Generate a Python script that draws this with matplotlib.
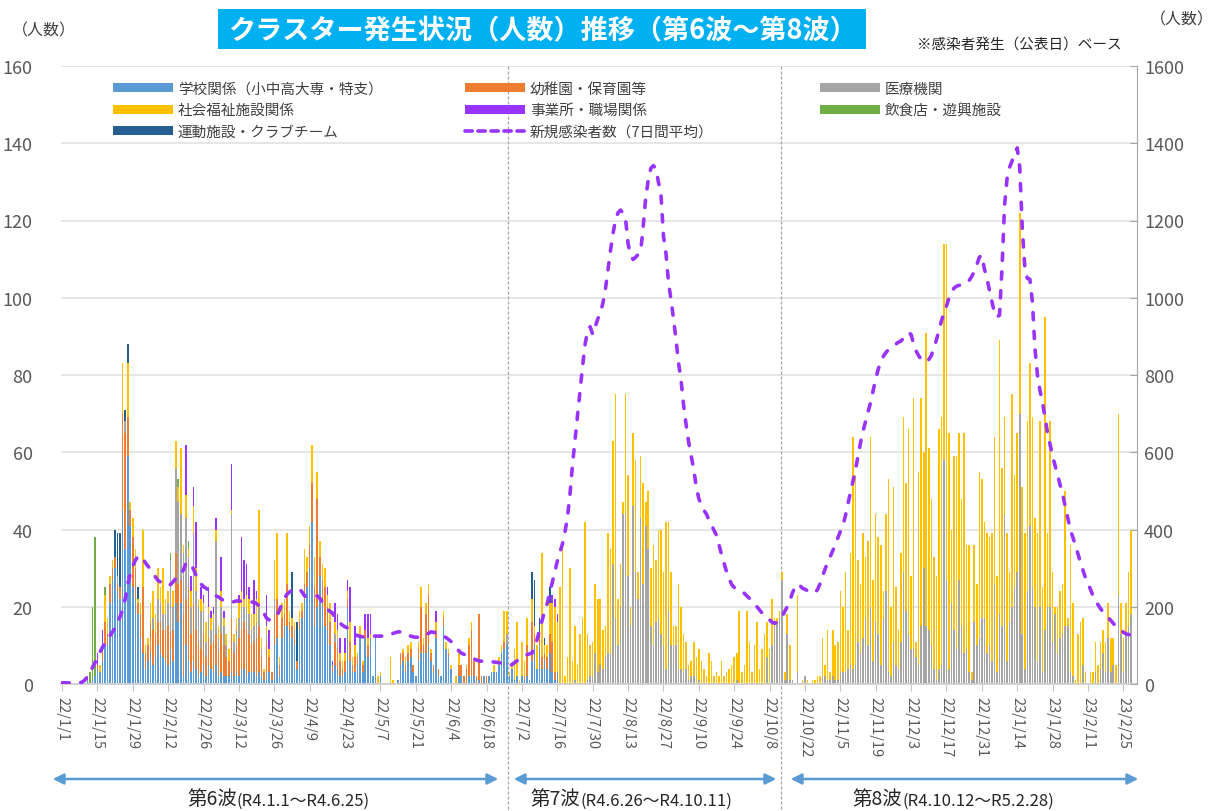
import sys
import matplotlib
matplotlib.use('Agg')
import matplotlib.pyplot as plt
import matplotlib.transforms as mtransforms
from matplotlib.patches import Patch, Rectangle, FancyArrowPatch
from matplotlib.lines import Line2D

plt.rcParams['font.family'] = ['Noto Sans CJK JP', 'DejaVu Sans']

W, H = 1212, 812
N_DAYS = 424  # 2022/1/1 .. 2023/2/28

categories = ['学校関係（小中高大専・特支）', '幼稚園・保育園等', '医療機関',
              '社会福祉施設関係', '事業所・職場関係', '飲食店・遊興施設',
              '運動施設・クラブチーム']
line_label = '新規感染者数（7日間平均）'
colors = ['#5B9BD5', '#ED7D31', '#A5A5A5', '#FFC000', '#9933FF', '#70AD47', '#255E91']
line_color = '#9933FF'

tick_labels = ['22/1/1', '22/1/15', '22/1/29', '22/2/12', '22/2/26', '22/3/12', '22/3/26',
               '22/4/9', '22/4/23', '22/5/7', '22/5/21', '22/6/4', '22/6/18', '22/7/2',
               '22/7/16', '22/7/30', '22/8/13', '22/8/27', '22/9/10', '22/9/24', '22/10/8',
               '22/10/22', '22/11/5', '22/11/19', '22/12/3', '22/12/17', '22/12/31',
               '23/1/14', '23/1/28', '23/2/11', '23/2/25']
tick_days = [0, 14, 28, 42, 56, 70, 84, 98, 112, 126, 140, 154, 168, 182, 196, 210, 224,
             238, 252, 266, 280, 294, 308, 322, 336, 350, 364, 378, 392, 406, 420]

# ---------------- wave 6 (day 0-175) ----------------
school_w6 = [0,0,0,0,0,0,0,0,0,0,
             1,0,1,2,4,3,6,10,10,21,
             27,30,24,22,45,35,59,41,25,22,
             18,12,8,4,6,8,5,7,10,8,
             7,6,5,9,6,21,16,21,2,10,
             6,3,6,4,2,3,5,2,5,4,
             3,5,2,3,2,2,2,3,2,3,
             2,4,4,2,3,3,3,2,3,2,
             1,3,3,1,10,12,2,12,15,15,
             14,12,10,4,14,17,22,25,30,42,
             15,20,28,20,15,14,10,3,5,4,
             2,2,3,20,6,3,3,5,12,3,
             12,7,12,2,12,0,2,0,0,0,
             0,0,0,1,5,6,3,6,7,3,
             2,6,8,8,8,10,6,3,12,2,
             2,15,9,7,4,0,0,2,2,0,
             0,2,2,2,0,1,0,2,0,2,
             3,3,3,5,8,9]
kinder_w6 = [0,0,0,0,0,0,0,0,0,0,
             0,0,0,0,1,0,3,6,3,5,
             3,3,2,3,25,30,10,4,13,8,
             3,6,17,4,4,8,9,6,6,8,
             7,8,10,4,8,13,10,6,16,12,
             19,10,15,10,8,6,8,5,7,6,
             8,8,6,10,8,5,4,14,6,7,
             10,10,12,12,10,7,8,10,12,5,
             2,8,4,2,8,10,3,5,3,11,
             2,3,2,2,2,2,4,4,6,10,
             10,28,5,7,10,6,6,2,6,5,
             4,2,3,2,5,2,4,2,1,2,
             2,3,0,0,0,0,0,0,0,0,
             0,0,0,0,3,2,2,2,2,2,
             0,3,12,2,10,13,2,2,2,2,
             0,2,0,1,0,0,0,3,3,2,
             4,8,12,4,2,17,2,0,2,0,
             0,0,0,0,0,2]
medical_w6 = [0]*20 + [
             0,0,2,0,0,3,0,0,0,0,
             0,0,0,0,0,0,3,0,6,5,
             4,4,6,19,6,22,21,17,16,21,
             8,7,18,10,10,10,6,4,6,4,
             5,24,4,7,5,3,0,27,3,4,
             5,6,4,5,5,4,4,4,5,2,
             0,2,0,0,4,0,0,0,0,0,
             0,0,2,0,0,0,0,0,0,0,
             0,0,0,0,0,0,0,0,2,3] + [0]*66
welfare_w6 = [0,0,0,0,0,0,0,0,0,0,
              0,0,0,0,0,2,0,7,4,2,
              2,0,0,0,13,0,14,2,5,5,
              1,3,15,2,2,5,7,5,8,4,
              12,4,3,0,4,7,4,17,2,6,
              2,4,7,6,2,3,2,5,2,3,
              2,3,3,4,2,3,3,1,2,3,
              4,4,2,4,4,4,3,6,25,3,
              1,2,2,0,10,17,2,4,4,13,
              3,2,2,0,3,2,9,4,5,10,
              8,7,4,4,5,3,5,0,3,2,
              2,2,2,2,5,2,3,1,2,1,
              0,2,1,0,0,2,1,0,0,0,
              7,1,0,0,0,1,2,2,2,0,
              0,2,5,2,3,3,1,0,2,0,
              0,2,2,1,1,0,2,3,0,0,
              1,2,2,0,0,0,0,0,0,0,
              0,2,0,2,2,8]
work_w6 = [0,0,0,0,0,0,0,0,0,0,
           1,0,0,0,3,0,5,0,0,0,
           0,0,0,0,0,0,0,0,0,0,
           0,0,0,0,0,0,0,0,0,0,
           0,0,0,0,0,0,0,0,0,13,
           0,4,5,12,0,3,2,0,5,2,
           2,3,0,9,2,0,0,12,0,0,
           2,14,10,8,3,0,9,2,0,0,
           0,8,5,0,0,0,0,0,0,0,
           0,0,0,0,0,0,0,0,0,0,
           0,0,0,0,0,2,0,1,5,4,
           4,0,4,3,9,0,5,0,0,0,
           4,6,5,0,0,0,0,0,0,0,
           0,0,0,0,0,0,0,0,0,0,
           0,0,0,0,0,0,0,0,3,0] + [0]*26

# ---------------- wave 7 (day 176-283) ----------------
school_w7 = [10,2,4,1,2,0,2,1,2,1,
             6,10,4,10,4,6,4,8,3,1,
             3] + [0]*87
kinder_w7 = [0,0,0,0,0,0,0,1,8,0,
             10,3,0,2,3,2,3,5,8,2] + [0]*88
medical_w7 = [3,0,0,0,0,0,0,0,0,0,
              0,0,0,0,0,0,0,0,0,0,
              0,0,0,0,0,0,0,1,0,0,
              0,0,1,2,2,8,3,5,4,7,
              8,8,31,17,10,20,44,44,28,15,
              46,29,22,43,26,41,35,15,10,16,
              17,13,10,4,19,10,10,10,4,4,
              3,4,1,2,2,0,1,0,0,0,
              0,0,0,0,0,0,0,0,0,0,
              0,1,0,0,0,0,0,0,0,0,
              0,0,0,7,0,10,15,16]
welfare_w7 = [6,1,1,8,14,1,9,4,7,0,
              6,2,6,0,27,2,3,8,10,17,
              13,25,37,2,7,30,6,14,5,13,
              17,42,12,8,9,18,19,17,10,8,
              31,27,32,58,12,11,3,31,26,5,
              19,29,7,16,26,6,15,15,26,16,
              23,27,19,38,23,19,5,5,22,16,
              10,7,4,4,9,7,8,6,4,2,
              8,6,2,3,2,6,2,3,4,5,
              7,7,19,3,5,19,11,3,10,16,
              4,9,13,9,9,12,2,1]
work_w7 = [0]*18 + [2, 2, 2] + [0]*87

# ---------------- wave 8 (day 284-423) ----------------
medical_w8 = [17,27,1,13,1,1,0,3,0,0,
              2,0,0,0,0,0,0,2,2,1,
              1,2,1,1,3,3,3,4,5,4,
              5,11,8,12,17,10,20,6,16,13,
              5,17,24,3,2,11,5,4,11,29,
              19,13,9,9,7,5,15,30,15,14,
              10,4,1,4,5,58,27,4,21,14,
              9,27,15,8,9,3,1,16,10,12,
              17,17,8,10,6,26,3,18,15,44,
              6,16,20,25,29,70,13,4,24,41,
              25,20,6,20,3,14,20,20,11,18,
              8,12,13,15,15,3,2,0,0,0,
              5,0,0,0,0,3,0,4,8,3,
              12,3,5,0,23,13,3,13,15,18]
welfare_w8 = [2,2,2,5,9,0,0,20,0,1,
              0,1,0,1,1,2,2,10,3,13,
              2,12,9,10,21,17,26,10,29,60,
              49,21,18,27,16,27,44,21,28,25,
              31,7,20,50,18,40,20,10,23,40,
              33,53,19,65,4,50,59,30,76,47,
              38,29,27,62,64,56,87,61,19,45,
              50,38,33,57,27,33,2,20,16,43,
              36,25,31,28,33,38,25,71,41,25,
              33,13,55,29,36,52,38,35,44,42,
              44,23,33,48,22,81,19,48,18,2,
              12,12,13,35,2,33,19,1,13,16,
              12,3,0,3,3,8,5,7,6,8,
              9,9,7,5,47,8,9,8,14,22]

# sparse categories: day index -> persons
food_days = {11: 3, 12: 19, 13: 36, 17: 2, 43: 2, 46: 2, 50: 2}
sports_days = {21: 7, 22: 11, 23: 14, 25: 3, 26: 5, 30: 3, 91: 12, 93: 10,
               186: 7, 187: 12, 189: 5, 191: 2, 193: 4}

# ---------------- new infections, 7-day average (right axis) ----------------
infect_w6 = [3,3,3,3,3,3,3,3,5,10,
             20,30,42,55,68,82,95,105,115,125,
             135,145,158,175,192,220,258,285,305,320,
             330,332,325,314,305,298,288,277,268,264,
             260,256,254,258,265,273,277,282,295,312,
             316,308,298,282,268,259,252,248,242,236,
             232,228,225,220,216,213,212,212,213,215,
             215,214,213,212,212,212,212,208,202,196,
             182,170,166,168,172,176,190,208,222,232,
             238,242,245,246,246,238,228,226,226,227,
             228,228,222,212,202,194,188,184,172,166,
             158,152,148,145,140,134,128,125,123,122,
             123,124,124,124,124,124,124,124,124,126,
             128,131,133,135,135,133,130,127,124,122,
             121,121,121,122,126,131,135,134,131,128,
             126,124,120,115,110,102,94,86,80,77,
             74,71,68,65,62,60,59,58,58,57,
             57,57,56,55,54,53]
infect_w7 = [50,48,50,55,60,64,68,72,76,78,
             80,95,115,140,165,190,208,235,262,290,
             318,340,362,392,430,490,567,630,695,760,
             823,880,915,925,905,925,945,960,985,1020,
             1070,1120,1165,1200,1220,1227,1220,1205,1140,1110,
             1099,1105,1112,1120,1185,1260,1305,1335,1342,1335,
             1300,1270,1160,1115,1040,995,945,890,830,785,
             720,670,625,590,555,510,480,462,450,440,
             425,412,398,385,360,335,312,290,272,258,
             250,245,240,237,235,228,222,214,208,200,
             192,184,178,172,166,160,157,160]
infect_w8 = [165,175,188,200,215,235,250,259,255,248,
             245,242,240,237,236,245,260,280,298,315,
             330,345,360,378,395,410,435,466,495,525,
             555,590,625,655,680,705,730,760,790,815,
             835,848,858,865,870,876,880,885,888,895,
             903,910,905,880,862,850,840,835,834,840,
             850,870,890,915,940,960,978,1000,1015,1025,
             1030,1032,1034,1036,1038,1045,1055,1068,1085,1105,
             1110,1075,1050,1020,990,960,950,955,1080,1240,
             1310,1338,1355,1372,1388,1338,1180,1080,1050,1048,
             990,870,800,760,730,690,650,620,590,565,
             540,515,490,460,430,400,380,360,337,315,
             295,275,260,245,228,215,205,195,186,178,
             172,165,157,150,145,140,134,130,128,127]

wave_bounds = [176.5, 284.5]
wave_names = ['第6波', '第7波', '第8波']
wave_ranges = ['(R4.1.1～R4.6.25)', '(R4.6.26～R4.10.11)', '(R4.10.12～R5.2.28)']


def fit(lst, n=N_DAYS):
    if len(lst) != n:
        print('length', len(lst), file=sys.stderr)
    return (list(lst) + [0] * n)[:n]


def from_dict(d):
    out = [0] * N_DAYS
    for k, v in d.items():
        out[k] = v
    return out


series = [
    fit(school_w6 + school_w7 + [0] * 140),
    fit(kinder_w6 + kinder_w7 + [0] * 140),
    fit(medical_w6 + medical_w7 + medical_w8),
    fit(welfare_w6 + welfare_w7 + welfare_w8),
    fit(work_w6 + work_w7 + [0] * 140),
    from_dict(food_days),
    from_dict(sports_days),
]
infect = fit(infect_w6 + infect_w7 + infect_w8)
days = list(range(N_DAYS))

fig = plt.figure(figsize=(W / 100, H / 100), dpi=100)
ax = fig.add_axes([60.5 / W, 1 - 685 / H, (1137 - 60.5) / W, (685 - 67) / H])

bottom = [0] * N_DAYS
for vals, c in zip(series, colors):
    ax.bar(days, vals, width=0.62, bottom=bottom, color=c, linewidth=0, zorder=2)
    bottom = [b + v for b, v in zip(bottom, vals)]

ax.set_xlim(-0.6, 425.4)
ax.set_ylim(0, 160)
ax.set_yticks(range(0, 161, 20))
ax.yaxis.grid(True, color='#E4E4E4', lw=1.3, zorder=0)
ax.set_axisbelow(True)
for s in ['left', 'top', 'right']:
    ax.spines[s].set_visible(False)
ax.spines['bottom'].set_color('#D0D0D0')
ax.spines['bottom'].set_linewidth(1.3)
ax.tick_params(axis='y', length=0, pad=20, labelsize=13, labelcolor='#595959')
ax.set_xticks(tick_days)
ax.set_xticklabels(tick_labels, rotation=270, fontsize=10.5, color='#595959')
ax.tick_params(axis='x', length=5, color='#C8C8C8', pad=4)

ax2 = ax.twinx()
ax2.set_ylim(0, 1600)
ax2.set_yticks(range(0, 1601, 200))
for s in ['left', 'top', 'bottom']:
    ax2.spines[s].set_visible(False)
ax2.spines['right'].set_color('#A6A6A6')
ax2.tick_params(axis='y', direction='in', length=5, color='#A6A6A6', pad=5,
                labelsize=13, labelcolor='#595959')
ax2.plot(days, infect, color=line_color, lw=2.6, dashes=(2.0, 3.2),
         dash_capstyle='round', zorder=5)

# wave boundary lines
trans = mtransforms.blended_transform_factory(ax.transData, ax.transAxes)
for xb in wave_bounds:
    ax.plot([xb, xb], [1, -0.21], transform=trans, clip_on=False,
            color='#A6A6A6', lw=0.9, ls=(0, (2.5, 1.5)), zorder=1)

# arrows and wave labels (figure pixel layout)
arrow_spans = [(50, 501), (511, 779), (788, 1141)]
split_x = [237, 580, 902]
for (x1, x2), sx, nm, rg in zip(arrow_spans, split_x, wave_names, wave_ranges):
    fig.add_artist(FancyArrowPatch((x1 / W, 1 - 780 / H), (x2 / W, 1 - 780 / H),
                                   transform=fig.transFigure, arrowstyle='<|-|>',
                                   mutation_scale=16, color='#5B9BD5', lw=1.8))
    fig.text(sx / W, 1 - 800 / H, nm, ha='right', va='center', fontsize=14, color='#262626')
    fig.text(sx / W, 1 - 801 / H, rg, ha='left', va='center', fontsize=12, color='#262626')

# title
fig.patches.append(Rectangle((218 / W, 1 - 50 / H), 648 / W, 40 / H,
                             transform=fig.transFigure, fc='#00B0F0', ec='none'))
fig.text(542 / W, 1 - 31 / H, 'クラスター発生状況（人数）推移（第6波～第8波）',
         ha='center', va='center', fontsize=19.5, color='white', fontweight='bold')
fig.text(1122 / W, 1 - 45 / H, '※感染者発生（公表日）ベース', ha='right', va='center',
         fontsize=10.5, color='#262626')
fig.text(12 / W, 1 - 31 / H, '（人数）', ha='left', va='center', fontsize=11.5, color='#404040')
fig.text(1150 / W, 1 - 20 / H, '（人数）', ha='left', va='center', fontsize=11.5, color='#404040')

# legends (3 columns)
patches = [Patch(facecolor=c, edgecolor='none') for c in colors]
line_h = Line2D([0], [0], color=line_color, lw=2.6, dashes=(2.0, 1.6), dash_capstyle='round')
cols = [([patches[0], patches[3], patches[6]], [categories[0], categories[3], categories[6]], 113),
        ([patches[1], patches[4], line_h], [categories[1], categories[4], line_label], 465),
        ([patches[2], patches[5]], [categories[2], categories[5]], 820)]
for hs, ls, xp in cols:
    leg = fig.legend(hs, ls, loc='upper left', bbox_to_anchor=(xp / W, 1 - 83 / H),
                     frameon=False, fontsize=10.5, handlelength=4.1, handleheight=0.55,
                     handletextpad=0.35, labelspacing=0.5, borderpad=0, borderaxespad=0)
    for t in leg.get_texts():
        t.set_color('#404040')

fig.savefig('out.png', dpi=100)
